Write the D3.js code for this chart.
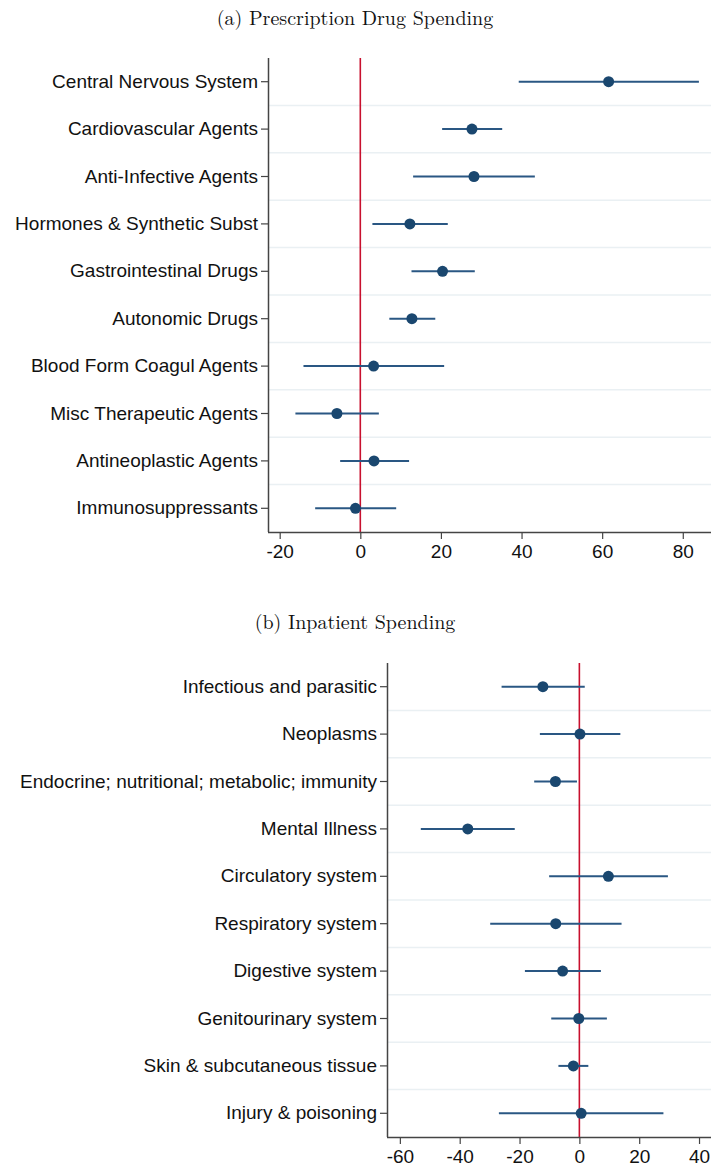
<!DOCTYPE html>
<html>
<head>
<meta charset="utf-8">
<script src="https://cdn.jsdelivr.net/npm/d3@7"></script>
<style>
  body { margin: 0; background: #fff; }
  svg text { fill: #111; }
</style>
</head>
<body>
<div id="chart"></div>
<script>
// panel (a) data
var drugCats = ["Central Nervous System", "Cardiovascular Agents", "Anti-Infective Agents",
  "Hormones & Synthetic Subst", "Gastrointestinal Drugs", "Autonomic Drugs",
  "Blood Form Coagul Agents", "Misc Therapeutic Agents", "Antineoplastic Agents", "Immunosuppressants"];
var drugEst = [61.6, 27.7, 28.2, 12.3, 20.4, 12.8, 3.3, -5.8, 3.4, -1.2];
var drugLo  = [39.3, 20.3, 13.1, 3.0, 12.7, 7.2, -14.1, -16.1, -5.0, -11.2];
var drugHi  = [84.0, 35.2, 43.3, 21.7, 28.4, 18.6, 20.8, 4.6, 12.1, 8.9];
var drugTicks = [-20, 0, 20, 40, 60, 80];

// panel (b) data
var inpCats = ["Infectious and parasitic", "Neoplasms", "Endocrine; nutritional; metabolic; immunity",
  "Mental Illness", "Circulatory system", "Respiratory system", "Digestive system",
  "Genitourinary system", "Skin & subcutaneous tissue", "Injury & poisoning"];
var inpEst = [-12.2, 0.2, -8.0, -37.3, 9.7, -7.9, -5.6, -0.2, -2.0, 0.6];
var inpLo  = [-26.0, -13.2, -15.1, -53.0, -10.1, -29.8, -18.2, -9.4, -7.0, -26.9];
var inpHi  = [1.8, 13.7, -0.8, -21.6, 29.6, 14.1, 7.2, 9.2, 3.0, 28.1];
var inpTicks = [-60, -40, -20, 0, 20, 40];

var W = 711, H = 1167;
var svg = d3.select("#chart").append("svg")
  .attr("width", W).attr("height", H);

function panel(opts) {
  var g = svg.append("g");

  var x = d3.scaleLinear().domain(opts.domain).range([opts.left, W]);
  var y = d3.scaleBand().domain(opts.cats).range([opts.top, opts.bottom]);

  // title
  g.append("text")
    .attr("x", 355).attr("y", opts.titleY)
    .attr("text-anchor", "middle")
    .style("font-family", "'Latin Modern Roman', 'DejaVu Serif', serif")
    .style("font-size", "20px")
    .text(opts.title);

  // gridlines between rows
  g.selectAll(".grid")
    .data(opts.cats.slice(1))
    .enter().append("line")
      .attr("x1", opts.left).attr("x2", W)
      .attr("y1", d => y(d)).attr("y2", d => y(d))
      .attr("stroke", "#eaf0f3").attr("stroke-width", 1.5);

  // zero line
  g.append("line")
    .attr("x1", x(0)).attr("x2", x(0))
    .attr("y1", opts.top).attr("y2", opts.bottom)
    .attr("stroke", "#c8102e").attr("stroke-width", 1.6);

  // confidence intervals
  g.selectAll(".ci")
    .data(opts.cats)
    .enter().append("line")
      .attr("x1", (d, i) => x(opts.lo[i]))
      .attr("x2", (d, i) => x(opts.hi[i]))
      .attr("y1", d => y(d) + y.bandwidth() / 2)
      .attr("y2", d => y(d) + y.bandwidth() / 2)
      .attr("stroke", "#2a5783").attr("stroke-width", 2);

  // point estimates
  g.selectAll(".pt")
    .data(opts.cats)
    .enter().append("circle")
      .attr("cx", (d, i) => x(opts.est[i]))
      .attr("cy", d => y(d) + y.bandwidth() / 2)
      .attr("r", 5.5)
      .attr("fill", "#1a476f");

  // axes
  var yAxis = g.append("g")
    .attr("transform", "translate(" + opts.left + ",0)")
    .call(d3.axisLeft(y).tickSize(7).tickPadding(3));
  var xAxis = g.append("g")
    .attr("transform", "translate(0," + opts.bottom + ")")
    .call(d3.axisBottom(x).tickValues(opts.ticks).tickSize(7).tickPadding(3)
      .tickFormat(d => String(d)));   // plain hyphen, like stata

  [yAxis, xAxis].forEach(function(a) {
    a.select(".domain").attr("stroke", "#444").attr("stroke-width", 1.5);
    a.selectAll(".tick line").attr("stroke", "#444").attr("stroke-width", 1.2);
    a.selectAll("text")
      .style("font-family", "'Liberation Sans', Arial, sans-serif")
      .style("font-size", "19px")
      .attr("fill", "#111");
  });
  // the axis path draws end caps; redraw as plain lines
  yAxis.select(".domain").attr("d", "M0.5," + opts.top + "V" + opts.bottom);
  xAxis.select(".domain").attr("d", "M" + opts.left + ",0.5H" + W);
  xAxis.selectAll("text").attr("dy", "0.85em");
}

panel({
  title: "(a) Prescription Drug Spending", titleY: 25,
  cats: drugCats, est: drugEst, lo: drugLo, hi: drugHi, ticks: drugTicks,
  domain: [-22.9, 87], left: 268, top: 58, bottom: 532
});

panel({
  title: "(b) Inpatient Spending", titleY: 629,
  cats: inpCats, est: inpEst, lo: inpLo, hi: inpHi, ticks: inpTicks,
  domain: [-64.3, 44], left: 387, top: 663, bottom: 1137
});
</script>
</body>
</html>
